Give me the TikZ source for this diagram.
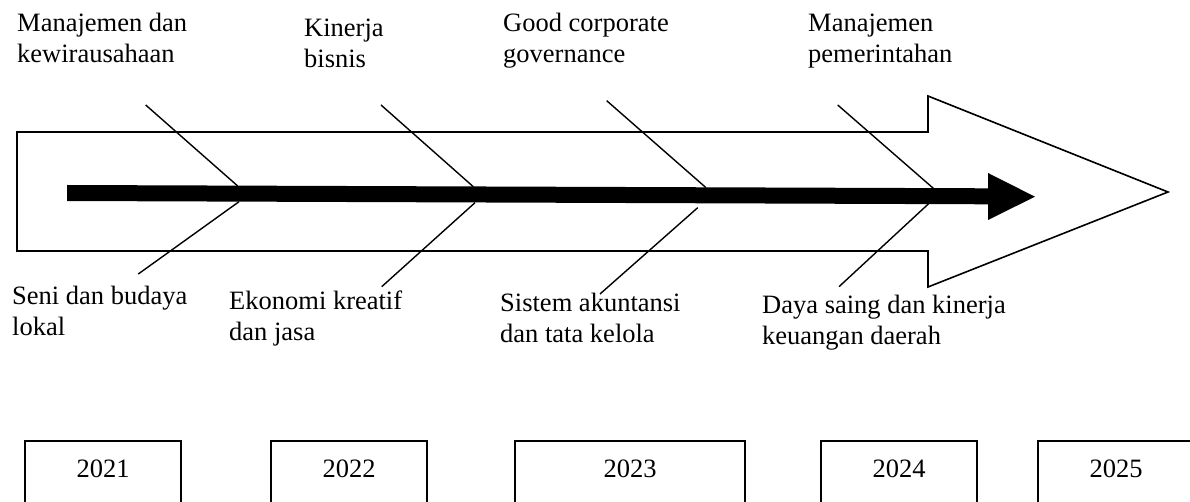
\documentclass[tikz,border=0pt]{standalone}
\usepackage{fontspec}
\setmainfont{Liberation Serif}
\begin{document}
\begin{tikzpicture}[x=1pt,y=-1pt,
  lbl/.style={anchor=base west, inner sep=0pt, font=\fontsize{26.5}{31}\selectfont},
  bone/.style={line width=1.4pt},
  outline/.style={line width=1.6pt, line join=miter},
  yearbox/.style={draw, line width=1.6pt, inner sep=0pt, anchor=north,
    text height=37pt, text depth=32pt, font=\fontsize{26.5}{31}\selectfont}]
\useasboundingbox (0,0) rectangle (1190,502);

% big outline arrow
\draw[outline] (17,132) -- (928,132) -- (928,96) -- (1168,192) -- (928,287)
  -- (928,251) -- (17,251) -- cycle;

% thick black arrow
\fill (67,185) -- (988,188.3) -- (988,173) -- (1035,196.7) -- (988,220)
  -- (988,204.3) -- (67,201) -- cycle;

% bones
\coordinate (u1a) at (145.7,105);  \coordinate (u1b) at (237.7,186);
\coordinate (d1a) at (239,201.7);  \coordinate (d1b) at (138.3,274);
\coordinate (u2a) at (381,105);    \coordinate (u2b) at (473.3,186.7);
\coordinate (d2a) at (475,202.7);  \coordinate (d2b) at (381.7,286.7);
\coordinate (u3a) at (606.7,100.7);\coordinate (u3b) at (706,187.7);
\coordinate (d3a) at (697.7,207.7);\coordinate (d3b) at (600,294);
\coordinate (u4a) at (837.7,105);  \coordinate (u4b) at (933.3,188.3);
\coordinate (d4a) at (928.3,204);  \coordinate (d4b) at (839,286.7);
\draw[bone] (u1a) -- (u1b);
\draw[bone] (d1a) -- (d1b);
\draw[bone] (u2a) -- (u2b);
\draw[bone] (d2a) -- (d2b);
\draw[bone] (u3a) -- (u3b);
\draw[bone] (d3a) -- (d3b);
\draw[bone] (u4a) -- (u4b);
\draw[bone] (d4a) -- (d4b);

% upper labels
\node[lbl] (t1) at (17,32)  {\vtop{\hbox{Manajemen dan}\hbox{kewirausahaan}}};
\node[lbl] (t2) at (304,37) {\vtop{\hbox{Kinerja}\hbox{bisnis}}};
\node[lbl] (t3) at (503,32) {\vtop{\hbox{Good corporate}\hbox{governance}}};
\node[lbl] (t4) at (808,32) {\vtop{\hbox{Manajemen}\hbox{pemerintahan}}};

% lower labels
\node[lbl] (b1) at (12,305)  {\vtop{\hbox{Seni dan budaya}\hbox{lokal}}};
\node[lbl] (b2) at (229,309) {\vtop{\hbox{Ekonomi kreatif}\hbox{dan jasa}}};
\node[lbl] (b3) at (500,312) {\vtop{\hbox{Sistem akuntansi}\hbox{dan tata kelola}}};
\node[lbl] (b4) at (762,313) {\vtop{\hbox{Daya saing dan kinerja}\hbox{keuangan daerah}}};

% year boxes
\node[yearbox, minimum width=156pt] (y1) at (103,440) {2021};
\node[yearbox, minimum width=156pt] (y2) at (349,440) {2022};
\node[yearbox, minimum width=230pt] (y3) at (630,440) {2023};
\node[yearbox, minimum width=156pt] (y4) at (899,440) {2024};
\node[yearbox, minimum width=156pt] (y5) at (1116,440) {2025};
\end{tikzpicture}
\end{document}
